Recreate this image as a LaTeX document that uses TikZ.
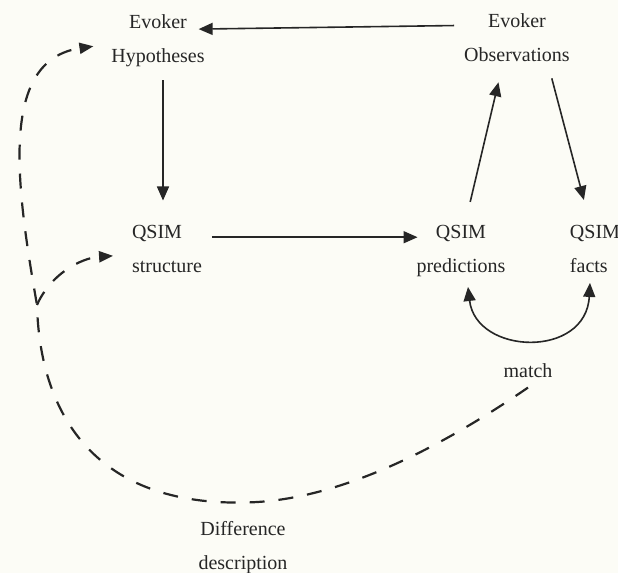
\documentclass[tikz,border=0pt]{standalone}
\usepackage{fontspec}
\setmainfont{Liberation Serif}
\usetikzlibrary{arrows.meta}
\definecolor{ink}{HTML}{262626}
\definecolor{paper}{HTML}{FCFCF6}
\tikzset{
    every node/.style={font=\fontsize{10}{17}\selectfont,text=ink},
    box/.style={align=center,inner sep=2pt,outer sep=3pt,anchor=north},
    leftbox/.style={box,align=left},
    flow/.style={draw=ink,line width=0.8pt,-{Triangle[length=7pt,width=6pt]}},
    twoway/.style={flow,{Triangle[length=7pt,width=6pt]}-{Triangle[length=7pt,width=6pt]}},
    feedback/.style={draw=ink,line width=1.1pt,dash pattern=on 7.5pt off 7pt,-{Triangle[length=7pt,width=5.5pt]}}
}

\begin{document}
\begin{tikzpicture}[x=0.5pt,y=-0.5pt]
\fill[paper] (0,0) rectangle (618,573);
\useasboundingbox (0,0) rectangle (618,573);
% labels
\node[box] (hyp) at (158,5) {Evoker\\Hypotheses};
\node[box] (obs) at (517,3.5) {Evoker\\Observations};
\node[leftbox] (struct) at (167,215.5) {QSIM\\structure};
\node[box] (pred) at (461,215.5) {QSIM\\predictions};
\node[leftbox] (facts) at (595,215.5) {QSIM\\facts};
\node[box] (match) at (528,353.5) {match};
\node[box] (diff) at (243,511.5) {Difference\\description};
\coordinate (low) at ([yshift=4.5pt]diff.north);
\coordinate (split) at (37,305);
% solid arrows
\draw[flow] ([yshift=6pt]obs.west) -- ([yshift=6pt,xshift=-8pt]hyp.east);
\draw[flow,shorten <=1.5pt,shorten >=7.5pt] ([xshift=2.5pt]hyp.south) -- ([xshift=2.5pt]hyp.south |- struct.north);
\draw[flow] ([yshift=6pt]struct.east) -- ([yshift=6pt,xshift=5.5pt]struct.east -| pred.west);
\draw[flow,shorten <=7pt,shorten >=5.5pt] ([xshift=3pt]pred.north) -- ([xshift=-8pt]obs.south);
\draw[flow,shorten <=3.5pt,shorten >=8pt] ([xshift=16.5pt]obs.south) -- ([xshift=-3.5pt]facts.north);
\draw[twoway] ([xshift=3.5pt]pred.south) .. controls +(4pt,-34pt) and +(-2pt,-38pt) .. ([xshift=-2.5pt]facts.south);
% dashed feedback
\draw[feedback,shorten >=4pt] (match.south) .. controls (430,455) and (330,502) .. (low)
    .. controls (100,505) and (40,420) .. (split)
    .. controls (15,180) and (0,60) .. ([yshift=-2pt]hyp.west);
\draw[feedback,shorten >=4.5pt] (split) .. controls (50,275) and (80,258) .. ([yshift=-3pt]struct.west);
\end{tikzpicture}
\end{document}
